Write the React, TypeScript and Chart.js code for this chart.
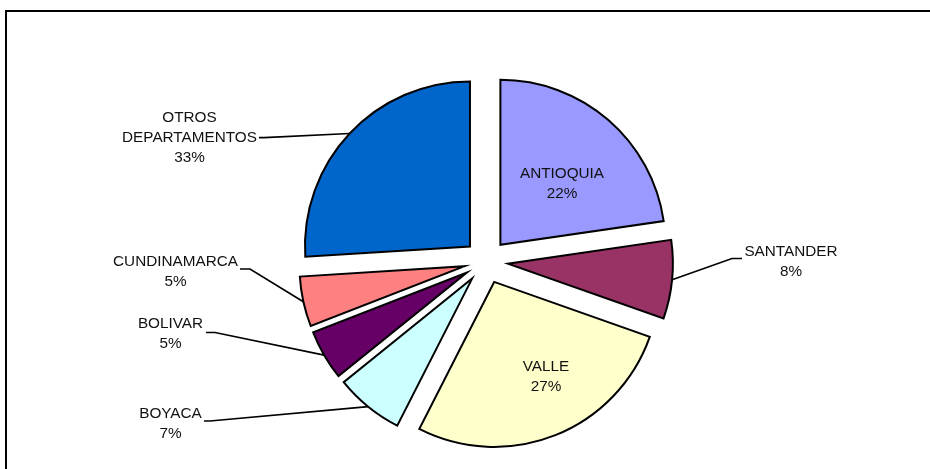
import React, { useEffect, useRef } from "react";
import { Chart, registerables } from "chart.js";

Chart.register(...registerables);

// ---- data ----
const categories = [
  "ANTIOQUIA",
  "SANTANDER",
  "VALLE",
  "BOYACA",
  "BOLIVAR",
  "CUNDINAMARCA",
  "OTROS DEPARTAMENTOS",
];
// slice sizes as drawn in the reference
const shares = [22.7, 7.7, 27.1, 6.7, 4.9, 4.9, 26.0];
// percentages printed on the labels
const percentLabels = ["22%", "8%", "27%", "7%", "5%", "5%", "33%"];
const colors = ["#9999FF", "#993366", "#FFFFCC", "#CCFFFF", "#660066", "#FF8080", "#0066CC"];

// ---- layout ----
const EXPLODE = 22;
const RADIUS = 165;
const FONT = '15.3px "Liberation Sans", Arial, sans-serif';
const LINE_H = 20;
// text center (first line) and optional leader start/elbow
const labelLayout: { x: number; y: number; lead?: [number, number, number, number] }[] = [
  { x: 562, y: 173.5 },
  { x: 791, y: 252, lead: [742, 258.5, 732, 258.5] },
  { x: 546, y: 367 },
  { x: 170.5, y: 413.5, lead: [204, 421, 210, 421] },
  { x: 170.5, y: 323.3, lead: [206, 332.5, 215, 332.5] },
  { x: 175.5, y: 261.7, lead: [240, 269, 250, 269] },
  { x: 189.5, y: 117.7, lead: [259, 137.7, 264, 137.7] },
];

const framePlugin = {
  id: "frame",
  beforeDraw(chart: any) {
    const ctx = chart.ctx;
    ctx.save();
    ctx.fillStyle = "#ffffff";
    ctx.fillRect(0, 0, chart.width, chart.height);
    ctx.fillStyle = "#000000";
    ctx.fillRect(5, 10, chart.width - 5, 2);
    ctx.fillRect(5, 10, 2, chart.height - 10);
    ctx.restore();
  },
};

const explodePlugin = {
  id: "explode",
  beforeDatasetDraw(chart: any, args: any) {
    const ctx = chart.ctx;
    args.meta.data.forEach((arc: any) => {
      const a = (arc.startAngle + arc.endAngle) / 2;
      ctx.save();
      ctx.translate(Math.cos(a) * EXPLODE, Math.sin(a) * EXPLODE);
      arc.draw(ctx);
      ctx.restore();
    });
    return false;
  },
};

const labelPlugin = {
  id: "sliceLabels",
  afterDatasetsDraw(chart: any) {
    const ctx = chart.ctx;
    const meta = chart.getDatasetMeta(0);
    ctx.save();
    ctx.font = FONT;
    ctx.fillStyle = "#111111";
    ctx.strokeStyle = "#000000";
    ctx.textAlign = "center";
    ctx.textBaseline = "middle";
    meta.data.forEach((arc: any, i: number) => {
      const lay = labelLayout[i];
      const lines = [...categories[i].split(" "), percentLabels[i]];
      lines.forEach((t, k) => ctx.fillText(t, lay.x, lay.y + k * LINE_H));
      if (lay.lead) {
        const a = (arc.startAngle + arc.endAngle) / 2;
        const r = arc.outerRadius + EXPLODE;
        const ex = arc.x + Math.cos(a) * r;
        const ey = arc.y + Math.sin(a) * r;
        ctx.lineWidth = 1.7;
        ctx.beginPath();
        ctx.moveTo(lay.lead[0], lay.lead[1]);
        ctx.lineTo(lay.lead[2], lay.lead[3]);
        ctx.lineTo(ex, ey);
        ctx.stroke();
      }
    });
    ctx.restore();
  },
};

export default function App() {
  const ref = useRef<HTMLCanvasElement | null>(null);
  useEffect(() => {
    if (!ref.current) return;
    const chart = new Chart(ref.current, {
      type: "pie",
      data: {
        labels: categories,
        datasets: [
          {
            data: shares,
            backgroundColor: colors,
            borderColor: "#000000",
            borderWidth: 2,
            borderJoinStyle: "miter",
          } as any,
        ],
      },
      options: {
        responsive: false,
        animation: false,
        radius: RADIUS,
        layout: { padding: { left: 42, right: 0, top: 54, bottom: 0 } },
        plugins: {
          legend: { display: false },
          tooltip: { enabled: false },
        },
      } as any,
      plugins: [framePlugin, explodePlugin, labelPlugin],
    });
    return () => chart.destroy();
  }, []);
  return (
    <canvas
      ref={ref}
      width={930}
      height={469}
      style={{ position: "absolute", left: 0, top: 0, width: 930, height: 469 }}
    />
  );
}
